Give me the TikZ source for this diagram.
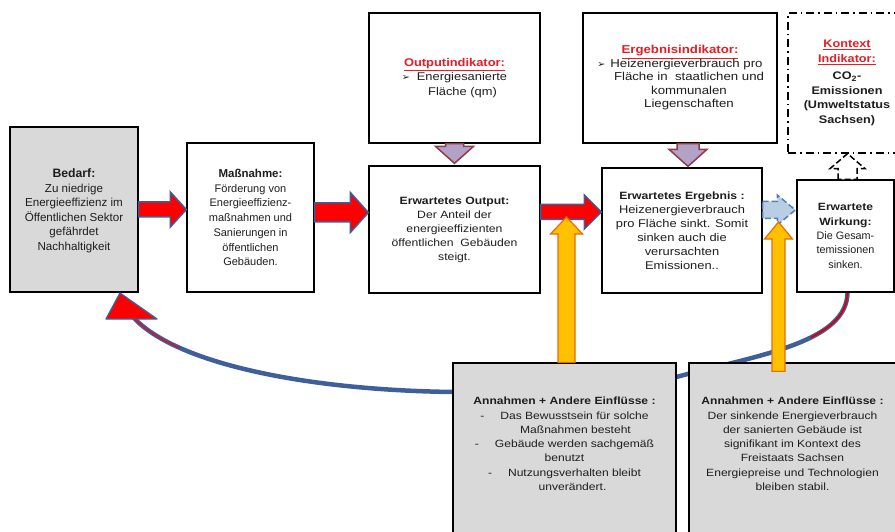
\documentclass[tikz,border=0pt]{standalone}
\usepackage{graphicx}
\usepackage{fontspec}
\setmainfont{Liberation Sans}
\newfontfamily\fw[FakeStretch=1.15]{Liberation Sans}
\newfontfamily\dv{DejaVu Sans}
\usetikzlibrary{calc}
\definecolor{txt}{HTML}{1E1E1E}
\definecolor{boxgray}{HTML}{D9D9D9}
\definecolor{tred}{HTML}{E31E24}
\definecolor{arrred}{HTML}{FF0000}
\definecolor{arrblue}{HTML}{3C5E9A}
\definecolor{lav}{HTML}{B3A2C7}
\definecolor{lavdraw}{HTML}{8E3B46}
\definecolor{orfill}{HTML}{FFC000}
\definecolor{ordraw}{HTML}{E46C0A}
\definecolor{lblue}{HTML}{B9CDE5}
\definecolor{lbluedraw}{HTML}{4F81BD}
\definecolor{curveblue}{HTML}{3E5F9C}
% style, start, tip, shaft half width, head half width, head length
\newcommand\blockarr[6]{%
  \path ($(#3)!#6!(#2)$) coordinate (hb);
  \draw[#1] ($(#2)!#4!90:(#3)$) -- ($(hb)!#4!90:(#3)$) -- ($(hb)!#5!90:(#3)$) -- (#3)
    -- ($(hb)!#5!-90:(#3)$) -- ($(hb)!#4!-90:(#3)$) -- ($(#2)!#4!-90:(#3)$) -- cycle;
}
\newcommand\bul{{\dv\fontsize{9.5}{10}\selectfont ➢}}
\tikzset{
  box/.style={draw=black, line width=1.3pt, fill=white, align=center, text=txt, inner sep=0pt},
  gbox/.style={box, fill=boxgray},
  konbox/.style={box, dash pattern=on 8pt off 4pt on 1.5pt off 4pt},
  redarr/.style={fill=arrred, draw=arrblue, line width=1.5pt, line join=miter},
  lavarr/.style={fill=lav, draw=lavdraw, line width=1.5pt},
  orarr/.style={fill=orfill, draw=ordraw, line width=1.2pt},
  lbarr/.style={fill=lblue, draw=lbluedraw, line width=1.5pt, dash pattern=on 6pt off 3pt},
  wharr/.style={fill=white, draw=black, line width=1.5pt, dash pattern=on 6pt off 3pt},
  fbcurve/.style={draw=curveblue, line width=4.5pt},
}
\begin{document}
\begin{tikzpicture}[x=1pt, y=-1pt]
\useasboundingbox (0,0) rectangle (895,532);
\clip (0,0) rectangle (895,532);

% --- feedback curve (behind the boxes)
\coordinate (wk) at (846.5,292);
\coordinate (bd) at (74,292);
\coordinate (c0) at ($(wk)+(1,0)$);
\coordinate (tipB) at ($(bd)+(46,1)$);
\coordinate (hbase) at ($(tipB)+(14,25)$);
\draw[fbcurve] (c0) .. controls +(0,50) and (760,355) .. (680,376)
  .. controls (620,392) and (520,392) .. (453,392)
  .. controls (300,390) and (175,362) .. (hbase);
\draw[draw=arrred!85!black, line width=1.8pt, dash pattern=on 62pt off 3000pt]
  (c0) .. controls +(0,50) and (760,355) .. (680,376);
\draw[draw=arrred!70!curveblue, line width=1.6pt, dash pattern=on 55pt off 3000pt]
  (hbase) .. controls (175,362) and (300,390) .. (453,392);

% --- boxes
\node[gbox, minimum width=128pt, minimum height=165pt, font=\fontsize{11.6}{14.6}\selectfont] (bedarf) at (74,209.5)
  {\\[-3pt]{\bfseries\fontsize{12.2}{14.6}\selectfont Bedarf:}\\Zu niedrige\\Energieeffizienz im\\Öffentlichen Sektor\\gefährdet\\Nachhaltigkeit};
\node[box, minimum width=127pt, minimum height=149pt, font=\fontsize{11}{14.7}\selectfont] (mass) at (250.5,217.5)
  {{\bfseries\fontsize{11.5}{14.7}\selectfont Maßnahme:}\\Förderung von\\Energieeffizienz-\\maßnahmen und\\Sanierungen in\\öffentlichen\\Gebäuden.};
\node[box, minimum width=171pt, minimum height=130pt, font=\fw\fontsize{11.2}{14.3}\selectfont] (oi) at (454.5,78)
  {{\color{tred}\bfseries\underline{Outputindikator:}}\\\bul\hspace{7pt}Energiesanierte\\ \hspace*{16pt}Fläche (qm)};
\node[box, minimum width=171pt, minimum height=127pt, font=\fw\fontsize{10.6}{14}\selectfont] (out) at (454.5,229.5)
  {{\bfseries Erwartetes Output:}\\Der Anteil der\\energieeffizienten\\öffentlichen~~Gebäuden\\steigt.};
\node[box, minimum width=194pt, minimum height=130pt, font=\fw\fontsize{11.5}{13.5}\selectfont] (ei) at (680,78)
  {{\color{tred}\bfseries\underline{Ergebnisindikator:}}\\\bul\hspace{5pt}Heizenergieverbrauch pro\\ \hspace*{18pt}Fläche in~~staatlichen und\\ \hspace*{18pt}kommunalen\\ \hspace*{18pt}Liegenschaften};
\node[box, minimum width=160pt, minimum height=125pt, font=\fw\fontsize{11.2}{14}\selectfont] (erg) at (682,230.5)
  {{\bfseries\fontsize{10.6}{14}\selectfont Erwartetes Ergebnis :}\\Heizenergieverbrauch\\pro Fläche sinkt. Somit\\sinken auch die\\verursachten\\Emissionen..};
\node[konbox, minimum width=118pt, minimum height=140pt, font=\fw\bfseries\fontsize{11}{14.5}\selectfont] (kon) at (847,83)
  {{\color{tred}\underline{Kontext}}\\{\color{tred}\underline{Indikator:}}\\[3pt]CO\textsubscript{2}-\\Emissionen\\(Umweltstatus\\Sachsen)};
\node[box, minimum width=97pt, minimum height=112pt, font=\fontsize{10.8}{14.3}\selectfont] (wirk) at (845.5,236)
  {{\fw\bfseries\fontsize{10.5}{14.3}\selectfont Erwartete}\\{\fw\bfseries\fontsize{10.5}{14.3}\selectfont Wirkung:}\\Die Gesam-\\temissionen\\sinken.};
\node[gbox, minimum width=223pt, minimum height=182pt, font=\fw\fontsize{10.5}{14.3}\selectfont] (ann1) at (564.5,454)
  {{\bfseries Annahmen + Andere Einflüsse :}\\-\hspace{16pt}Das Bewusstsein für solche\\ \hspace*{22pt}Maßnahmen besteht\\-\hspace{16pt}Gebäude werden sachgemäß\\benutzt\\-\hspace{16pt}Nutzungsverhalten bleibt\\ \hspace*{16pt}unverändert.\\[6pt]};
\node[gbox, minimum width=207pt, minimum height=182pt, font=\fw\fontsize{10.5}{14.3}\selectfont] (ann2) at (792.5,454)
  {{\bfseries Annahmen + Andere Einflüsse :}\\Der sinkende Energieverbrauch\\der sanierten Gebäude ist\\signifikant im Kontext des\\Freistaats Sachsen\\Energiepreise und Technologien\\bleiben stabil.\\[6pt]};

% --- red head of the feedback curve
\draw[fill=arrred, draw=curveblue, line width=1.3pt, line join=round]
  (tipB) -- ($(tipB)+(-14,26)$) -- ($(tipB)+(37,26)$) -- cycle;

% --- horizontal block arrows
\coordinate (a1s) at (bedarf.east |- 0,209.5);
\coordinate (a1e) at (mass.west |- 0,209.5);
\blockarr{redarr}{a1s}{a1e}{7.5pt}{17.5pt}{16pt}
\coordinate (a2s) at (mass.east |- 0,212.5);
\coordinate (a2e) at (out.west |- 0,212.5);
\blockarr{redarr}{a2s}{a2e}{9.5pt}{20pt}{18pt}
\coordinate (a3s) at (out.east |- 0,212);
\coordinate (a3e) at (erg.west |- 0,212);
\blockarr{redarr}{a3s}{a3e}{7.5pt}{17pt}{17pt}
\coordinate (a4s) at (erg.east |- 0,210);
\coordinate (a4e) at ($(wirk.west |- 0,210)+(-1,0)$);
\blockarr{lbarr}{a4s}{a4e}{8.5pt}{15pt}{18pt}

% --- vertical block arrows
\coordinate (d1s) at (oi.south);
\coordinate (d1e) at ($(out.north)+(0,-2)$);
\blockarr{lavarr}{d1s}{d1e}{9pt}{19pt}{17pt}
\coordinate (d2s) at ($(ei.south)+(8,0)$);
\coordinate (d2e) at ($(erg.north -| d2s)+(0,-1)$);
\blockarr{lavarr}{d2s}{d2e}{11pt}{19pt}{17pt}
\coordinate (u1s) at ($(wirk.north)+(2,0)$);
\coordinate (u1e) at (kon.south -| u1s);
\blockarr{wharr}{u1s}{u1e}{9.5pt}{17.5pt}{15pt}

% --- orange arrows (on top)
\coordinate (o1s) at ($(ann1.north)+(2,0)$);
\coordinate (o1e) at (o1s |- 0,217);
\blockarr{orarr}{o1s}{o1e}{8.5pt}{16pt}{17pt}
\coordinate (o2s) at ($(ann2.north -| 778.5,0)+(0,9)$);
\coordinate (o2e) at (o2s |- 0,222);
\blockarr{orarr}{o2s}{o2e}{6.5pt}{14pt}{17pt}
\end{tikzpicture}
\end{document}
